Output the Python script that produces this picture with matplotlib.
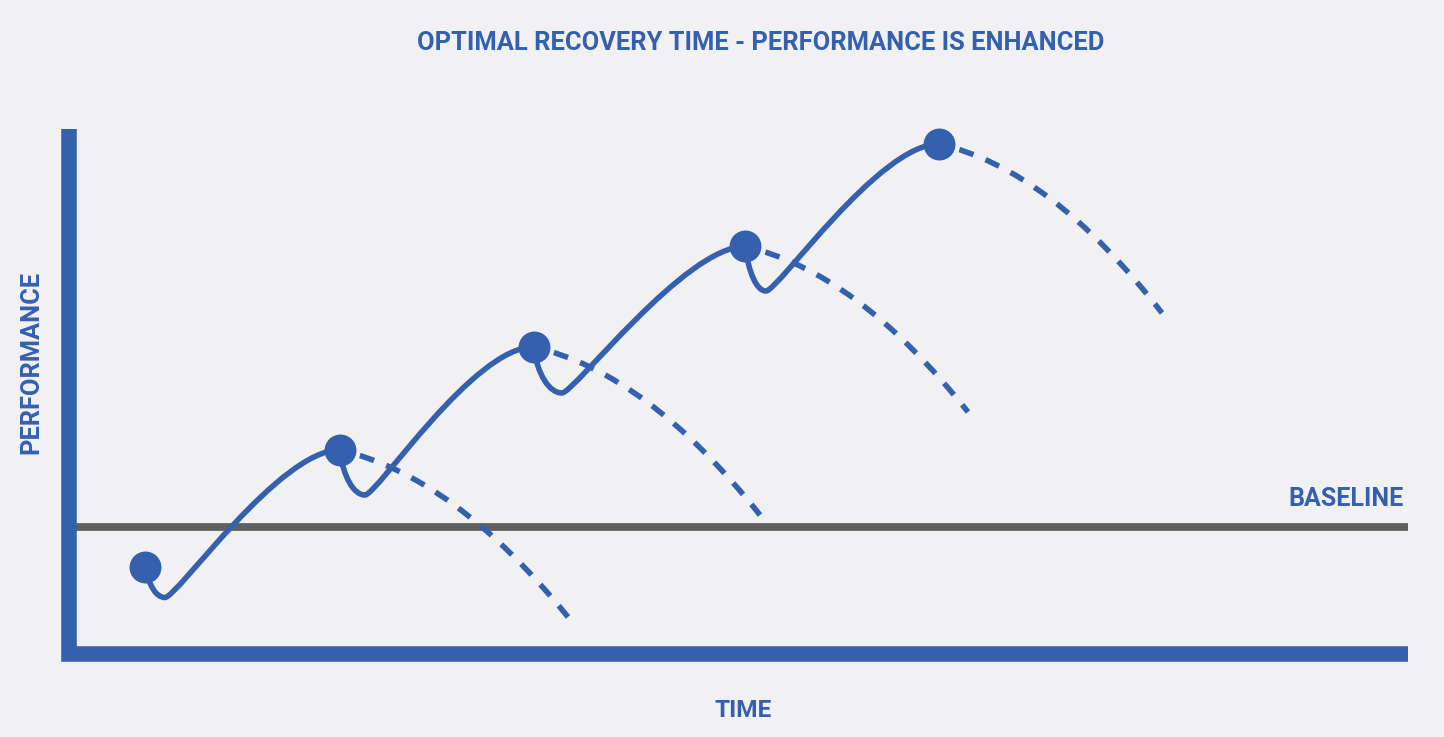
import matplotlib
matplotlib.use('Agg')
import matplotlib.pyplot as plt
from matplotlib.path import Path
from matplotlib.patches import PathPatch

plt.rcParams['lines.scale_dashes'] = False

# chart values (1 unit = 10 px in the reference)
peak_x = [7.65, 27.1, 46.5, 67.65, 87.05]
peak_y = [8.7, 20.4, 30.7, 40.75, 51.0]
dip_x = [9.65, 29.65, 49.35, 69.75]
dip_y = [5.65, 15.9, 26.1, 36.3]
fade_x = [49.95, 69.15, 89.95, 109.35]
fade_y = [3.7, 13.9, 24.2, 34.1]
baseline_y = 12.7

title = 'OPTIMAL RECOVERY TIME - PERFORMANCE IS ENHANCED'
xlabel = 'TIME'
ylabel = 'PERFORMANCE'
base_label = 'BASELINE'

BLUE = '#3460AE'
GRAY = '#616161'
BG = '#F1F1F4'
FONT = 'Roboto'

fig = plt.figure(figsize=(14.44, 7.37), dpi=100)
fig.patch.set_facecolor(BG)
ax = fig.add_axes([68.5 / 1444, 83 / 737, (1408 - 68.5) / 1444, 525 / 737])
ax.set_xlim(0, 133.95)
ax.set_ylim(0, 52.5)
ax.axis('off')

# baseline
ax.plot([0, 133.95], [baseline_y, baseline_y], color=GRAY, lw=5.6,
        solid_capstyle='butt', zorder=2, clip_on=False)

# solid path: peak -> dip -> next peak
verts = [(peak_x[0], peak_y[0])]
codes = [Path.MOVETO]
for i in range(len(dip_x)):
    px, py = peak_x[i], peak_y[i]
    dx, dy = dip_x[i], dip_y[i]
    nx, ny = peak_x[i + 1], peak_y[i + 1]
    h = py - dy
    w = dx - px
    verts += [(px + 0.4, py - 0.6 * h), (dx - 0.45 * w, dy), (dx, dy)]
    verts += [(dx + 1.2, dy), (nx - 6.0, ny), (nx, ny)]
    codes += [Path.CURVE4] * 6
ax.add_patch(PathPatch(Path(verts, codes), fill=False, edgecolor=BLUE, lw=4,
                       capstyle='round', joinstyle='round', zorder=4, clip_on=False))

# dashed decay after each peak
fade_slope = 0.225
for i in range(len(fade_x)):
    sx, sy = peak_x[i + 1], peak_y[i + 1]
    ex, ey = fade_x[i], fade_y[i]
    cx = (sx + ex) / 2
    cy = sy - fade_slope * (ex - sx) / 2
    p = Path([(sx, sy), (cx, cy), (ex, ey)], [Path.MOVETO, Path.CURVE3, Path.CURVE3])
    ax.add_patch(PathPatch(p, fill=False, edgecolor=BLUE, lw=4,
                           linestyle=(5.0, (10.8, 9.4)), capstyle='butt',
                           zorder=3, clip_on=False))

ax.plot(peak_x, peak_y, 'o', color=BLUE, markersize=23, markeredgewidth=0,
        zorder=5, clip_on=False)

# axis lines as one L shape
ax.plot([0, 0, 133.95], [52.5, 0, 0], color=BLUE, lw=11.2,
        solid_capstyle='butt', solid_joinstyle='miter', zorder=6, clip_on=False)

fig.text(761 / 1444, 1 - 50 / 737, title, ha='center', va='baseline',
         fontsize=18.4, fontweight='bold', family=FONT, color=BLUE)
fig.text(743 / 1444, 1 - 716.7 / 737, xlabel, ha='center', va='baseline',
         fontsize=17.6, fontweight='bold', family=FONT, color=BLUE)
fig.text(1404 / 1444, 1 - 506 / 737, base_label, ha='right', va='baseline',
         fontsize=18, fontweight='bold', family=FONT, color=BLUE)
fig.text(38.3 / 1444, 1 - 362.5 / 737, ylabel, ha='center', va='baseline',
         rotation=90, rotation_mode='anchor',
         fontsize=18.3, fontweight='bold', family=FONT, color=BLUE)

fig.savefig('out.png', dpi=100, facecolor=BG)
